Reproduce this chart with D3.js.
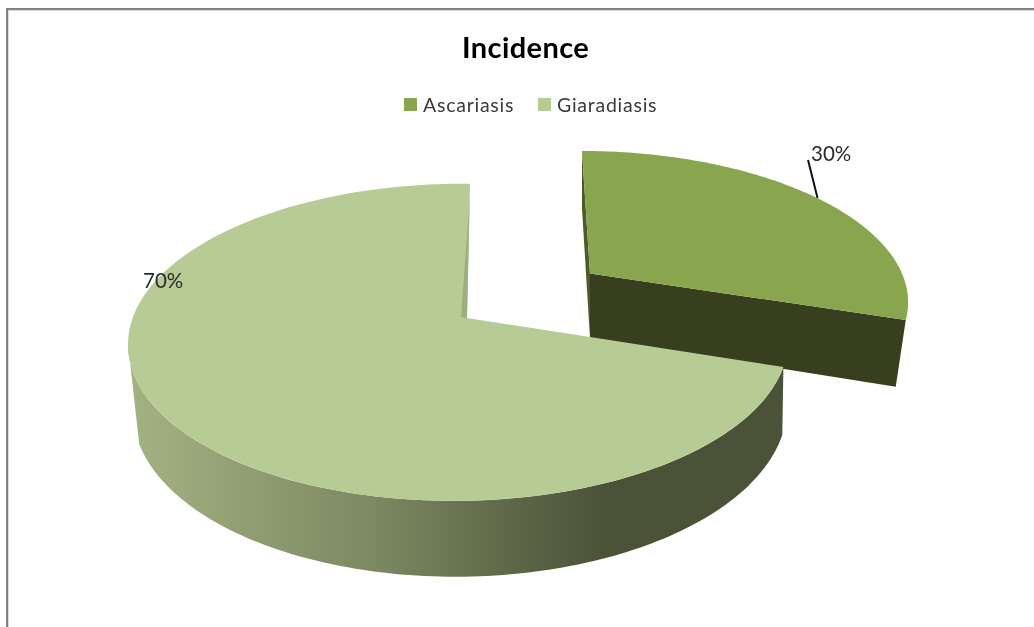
<!DOCTYPE html>
<html>
<head>
<meta charset="utf-8">
<script src="https://cdn.jsdelivr.net/npm/d3@7"></script>
<style>
html,body{margin:0;padding:0;background:#fff;overflow:hidden}
svg{display:block}
text{font-family:Lato,"Open Sans",sans-serif;filter:url(#soft)}
</style>
</head>
<body>
<svg id="c" width="1034" height="627"></svg>
<script>
const chartTitle = "Incidence";
const categories = ["Ascariasis", "Giaradiasis"];
const values = [30, 70];
const valueLabels = ["30%", "70%"];
const colors = ["#89a54e", "#b7cc94"];

const svg = d3.select("#c");

// frame: top and left rules only, with a pale inner edge
svg.append("rect").attr("x",8).attr("y",10).attr("width",1026).attr("height",1).attr("fill","#dcdcdc");
svg.append("rect").attr("x",8).attr("y",10).attr("width",1).attr("height",617).attr("fill","#dcdcdc");
svg.append("rect").attr("x",6).attr("y",8).attr("width",1028).attr("height",2).attr("fill","#828282");
svg.append("rect").attr("x",6).attr("y",8).attr("width",2).attr("height",619).attr("fill","#828282");

const defs = svg.append("defs");
defs.append("filter").attr("id","soft").append("feGaussianBlur").attr("stdDeviation",0.35);
const grad = defs.append("linearGradient").attr("id","wall").attr("gradientUnits","userSpaceOnUse")
  .attr("x1",130).attr("x2",605).attr("y1",0).attr("y2",0);
[[0,"#a4b283"],[0.5,"#7d8a62"],[1,"#4a5238"]].forEach(s=>grad.append("stop").attr("offset",s[0]).attr("stop-color",s[1]));

const arcs = d3.pie().sort(null).value(d=>d)(values);

// perspective projection of a unit disc to the screen
const proj = p => a => {
  const u=Math.sin(a), v=Math.cos(a), w=1+p.k*v+p.m*u;
  return [p.cx+(p.rx*u+p.s*v)/w, p.cy-p.ry*v/w];
};
const planes = [
  { top:{cx:590,cy:273.5,rx:312,ry:142.8,k:.1656,m:0,s:-9.3},
    bot:{cx:590,cy:338,rx:302,ry:150,k:.1656,m:0,s:-9.3} },
  { top:{cx:467,cy:318,rx:326,ry:154.8,k:.153,m:.025,s:3.5},
    bot:{cx:468.8,cy:383,rx:323,ry:164,k:.153,m:.025,s:3.5} }
];
const rim = (f,a0,a1) => d3.range(0,121).map(i=>f(a0+(a1-a0)*i/120));
const line = d3.line();
const poly = (pts,fill) => svg.append("path").attr("d",line(pts)+"Z").attr("fill",fill);

// exploded slice
{
  const a = arcs[0], T=proj(planes[0].top), B=proj(planes[0].bot);
  const A=[planes[0].top.cx,planes[0].top.cy], A2=[planes[0].bot.cx,planes[0].bot.cy];
  poly([T(a.startAngle),B(a.startAngle),A2,A],"#4f5a2a");
  poly([A,T(a.endAngle),B(a.endAngle),A2],"#383f1e");
  poly([A,...rim(T,a.startAngle,a.endAngle)],colors[0]);
}
// main slice
{
  const a = arcs[1], T=proj(planes[1].top), B=proj(planes[1].bot);
  const A=[planes[1].top.cx,planes[1].top.cy];
  const span=a.endAngle-a.startAngle;
  const silTop=a.startAngle+span*0.607, silBot=a.startAngle+span*0.563;
  poly([...rim(T,a.startAngle,silTop),...rim(B,a.startAngle,silBot).reverse()],"url(#wall)");
  poly([A,...rim(T,a.startAngle,a.endAngle)],colors[1]);
  const P=T(a.endAngle);
  const Q=[A[0]+(P[0]-A[0])*.88, A[1]+(P[1]-A[1])*.88];
  poly([P,Q,[A[0]-6,A[1]-1],A],"#a0ad7c");
}

// leader and data labels
{
  const a=arcs[0], m=(a.startAngle+a.endAngle)/2, p=proj(planes[0].top)(m);
  svg.append("line").attr("x1",p[0]+2.5).attr("y1",p[1]+1).attr("x2",p[0]-7).attr("y2",p[1]-37)
    .attr("stroke","#111").attr("stroke-width",2);
}
const labelPos=[[811,161],[143,288]];
svg.selectAll("text.v").data(valueLabels).join("text").attr("class","v")
  .attr("x",(d,i)=>labelPos[i][0]).attr("y",(d,i)=>labelPos[i][1])
  .attr("font-size",20.5).attr("fill","#2b2b2b").text(d=>d);

svg.append("text").attr("x",462).attr("y",58).attr("font-size",29).attr("font-weight",700)
  .attr("letter-spacing",0.4).attr("fill","#000").text(chartTitle);

const legX=[404,538];
categories.forEach((c,i)=>{
  svg.append("rect").attr("x",legX[i]).attr("y",98).attr("width",13).attr("height",13).attr("fill",colors[i]);
  svg.append("text").attr("x",legX[i]+19).attr("y",112).attr("font-size",19.5)
    .attr("letter-spacing",0.75).attr("fill","#3a3a3a").text(c);
});
</script>
</body>
</html>
